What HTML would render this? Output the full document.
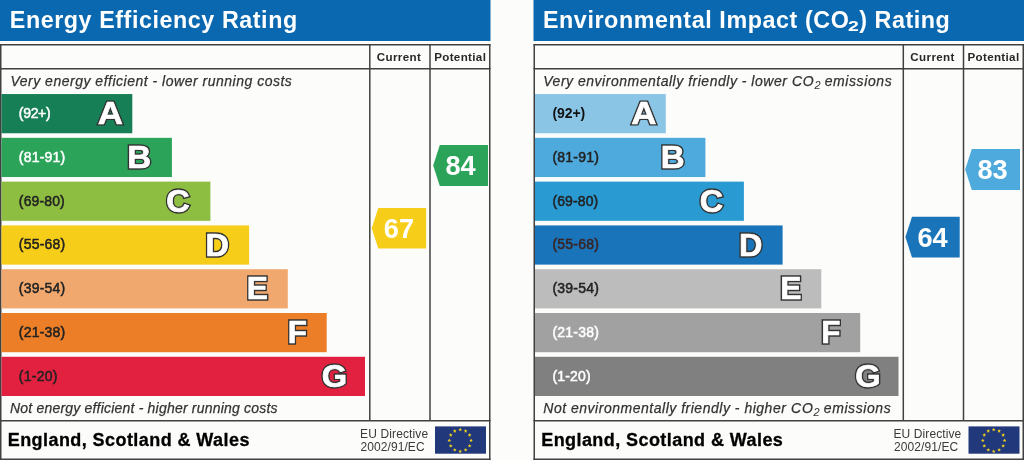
<!DOCTYPE html>
<html><head><meta charset="utf-8"><title>Energy Performance Certificate Ratings</title>
<style>
html,body{margin:0;padding:0;background:#fcfcfa;width:1024px;height:460px;overflow:hidden}
svg{display:block;will-change:transform;font-family:"Liberation Sans",sans-serif}
.ttl{font-size:23.3px;font-weight:bold;fill:#fff}
.sub{font-size:15.5px;font-weight:bold;fill:#fff}
.ln{stroke:#404040;stroke-width:1.5;fill:none}
.hd{font-size:11.6px;font-weight:bold;fill:#282828}
.desc{font-size:14px;font-style:italic;fill:#333;stroke:#333;stroke-width:0.25}
.descu{font-size:14px;font-style:italic;fill:#333;stroke:#333;stroke-width:0.25}
.dsub{font-size:11.5px;font-style:italic;fill:#333}
.rng{font-size:14px;stroke-width:0.5}
.lt1{font-weight:bold;fill:#333;stroke:#333;stroke-linejoin:miter}
.lt2{font-weight:bold;fill:#fff;stroke:#fff;stroke-linejoin:round}
.num{font-size:27.2px;font-weight:bold;fill:#fff}
.ftr{font-size:18px;font-weight:bold;fill:#000;stroke:#000;stroke-width:0.3}
.eu{font-size:12px;fill:#3a3a3a}
</style></head>
<body>
<svg width="1024" height="460" viewBox="0 0 1024 460">
<rect x="0" y="0" width="490.5" height="41" fill="#0a68b0"/>
<line class="ln" x1="0" y1="44.75" x2="490.5" y2="44.75"/>
<line class="ln" x1="0" y1="459.25" x2="490.5" y2="459.25"/>
<line class="ln" x1="0.75" y1="44" x2="0.75" y2="460"/>
<line class="ln" x1="489.75" y1="44" x2="489.75" y2="460"/>
<line class="ln" x1="0" y1="68.75" x2="490.5" y2="68.75"/>
<line class="ln" x1="0" y1="420.75" x2="490.5" y2="420.75"/>
<line class="ln" x1="369.8" y1="44" x2="369.8" y2="421"/>
<line class="ln" x1="430" y1="44" x2="430" y2="421"/>
<rect x="435" y="426.40000000000003" width="51" height="27.3" fill="#21387a"/>
<polygon points="460.20,427.60 460.70,428.91 462.10,428.98 461.01,429.86 461.38,431.22 460.20,430.45 459.02,431.22 459.39,429.86 458.30,428.98 459.70,428.91" fill="#f3d21c"/>
<polygon points="465.65,429.06 466.15,430.37 467.55,430.44 466.46,431.32 466.83,432.68 465.65,431.91 464.47,432.68 464.84,431.32 463.75,430.44 465.15,430.37" fill="#f3d21c"/>
<polygon points="469.64,433.05 470.14,434.36 471.54,434.43 470.45,435.31 470.82,436.67 469.64,435.90 468.46,436.67 468.83,435.31 467.74,434.43 469.14,434.36" fill="#f3d21c"/>
<polygon points="471.10,438.50 471.60,439.81 473.00,439.88 471.91,440.76 472.28,442.12 471.10,441.35 469.92,442.12 470.29,440.76 469.20,439.88 470.60,439.81" fill="#f3d21c"/>
<polygon points="469.64,443.95 470.14,445.26 471.54,445.33 470.45,446.21 470.82,447.57 469.64,446.80 468.46,447.57 468.83,446.21 467.74,445.33 469.14,445.26" fill="#f3d21c"/>
<polygon points="465.65,447.94 466.15,449.25 467.55,449.32 466.46,450.20 466.83,451.56 465.65,450.79 464.47,451.56 464.84,450.20 463.75,449.32 465.15,449.25" fill="#f3d21c"/>
<polygon points="460.20,449.40 460.70,450.71 462.10,450.78 461.01,451.66 461.38,453.02 460.20,452.25 459.02,453.02 459.39,451.66 458.30,450.78 459.70,450.71" fill="#f3d21c"/>
<polygon points="454.75,447.94 455.25,449.25 456.65,449.32 455.56,450.20 455.93,451.56 454.75,450.79 453.57,451.56 453.94,450.20 452.85,449.32 454.25,449.25" fill="#f3d21c"/>
<polygon points="450.76,443.95 451.26,445.26 452.66,445.33 451.57,446.21 451.94,447.57 450.76,446.80 449.58,447.57 449.95,446.21 448.86,445.33 450.26,445.26" fill="#f3d21c"/>
<polygon points="449.30,438.50 449.80,439.81 451.20,439.88 450.11,440.76 450.48,442.12 449.30,441.35 448.12,442.12 448.49,440.76 447.40,439.88 448.80,439.81" fill="#f3d21c"/>
<polygon points="450.76,433.05 451.26,434.36 452.66,434.43 451.57,435.31 451.94,436.67 450.76,435.90 449.58,436.67 449.95,435.31 448.86,434.43 450.26,434.36" fill="#f3d21c"/>
<polygon points="454.75,429.06 455.25,430.37 456.65,430.44 455.56,431.32 455.93,432.68 454.75,431.91 453.57,432.68 453.94,431.32 452.85,430.44 454.25,430.37" fill="#f3d21c"/>
<rect x="1.5" y="94.05" width="130.8" height="39.2" fill="#167f56"/>
<rect x="1.5" y="137.84" width="170.4" height="39.2" fill="#2ba45a"/>
<rect x="1.5" y="181.63" width="208.9" height="39.2" fill="#8dbd41"/>
<rect x="1.5" y="225.42" width="247.6" height="39.2" fill="#f6cd19"/>
<rect x="1.5" y="269.21" width="286.3" height="39.2" fill="#f1a86f"/>
<rect x="1.5" y="313.00" width="325.2" height="39.2" fill="#eb7e26"/>
<rect x="1.5" y="356.79" width="363.5" height="39.2" fill="#e2203f"/>
<text id="LAL" class="lt1" font-size="31.25" stroke-width="3.14" transform="translate(97.68,123.55) scale(1.1161,1)">A</text><text class="lt2" font-size="31.25" stroke-width="0.63" transform="translate(97.68,123.55) scale(1.1161,1)">A</text>
<text id="LBL" class="lt1" font-size="31.54" stroke-width="3.33" transform="translate(127.33,167.75) scale(1.0501,1)">B</text><text class="lt2" font-size="31.54" stroke-width="0.67" transform="translate(127.33,167.75) scale(1.0501,1)">B</text>
<text id="LCL" class="lt1" font-size="31.64" stroke-width="3.42" transform="translate(166.32,211.94) scale(1.0249,1)">C</text><text class="lt2" font-size="31.64" stroke-width="0.68" transform="translate(166.32,211.94) scale(1.0249,1)">C</text>
<text id="LDL" class="lt1" font-size="31.54" stroke-width="3.40" transform="translate(205.58,256.15) scale(1.0288,1)">D</text><text class="lt2" font-size="31.54" stroke-width="0.68" transform="translate(205.58,256.15) scale(1.0288,1)">D</text>
<text id="LEL" class="lt1" font-size="31.11" stroke-width="3.43" transform="translate(246.73,298.95) scale(1.0200,1)">E</text><text class="lt2" font-size="31.11" stroke-width="0.69" transform="translate(246.73,298.95) scale(1.0200,1)">E</text>
<text id="LFL" class="lt1" font-size="30.81" stroke-width="3.44" transform="translate(287.65,342.95) scale(1.0171,1)">F</text><text class="lt2" font-size="30.81" stroke-width="0.69" transform="translate(287.65,342.95) scale(1.0171,1)">F</text>
<text id="LGL" class="lt1" font-size="31.50" stroke-width="3.38" transform="translate(321.81,386.64) scale(1.0351,1)">G</text><text class="lt2" font-size="31.50" stroke-width="0.68" transform="translate(321.81,386.64) scale(1.0351,1)">G</text>
<rect x="533.5" y="0" width="490.5" height="41" fill="#0a68b0"/>
<line class="ln" x1="533.5" y1="44.75" x2="1024.0" y2="44.75"/>
<line class="ln" x1="533.5" y1="459.25" x2="1024.0" y2="459.25"/>
<line class="ln" x1="534.25" y1="44" x2="534.25" y2="460"/>
<line class="ln" x1="1023.25" y1="44" x2="1023.25" y2="460"/>
<line class="ln" x1="533.5" y1="68.75" x2="1024.0" y2="68.75"/>
<line class="ln" x1="533.5" y1="420.75" x2="1024.0" y2="420.75"/>
<line class="ln" x1="903.3" y1="44" x2="903.3" y2="421"/>
<line class="ln" x1="963.5" y1="44" x2="963.5" y2="421"/>
<rect x="968.5" y="426.40000000000003" width="51" height="27.3" fill="#21387a"/>
<polygon points="993.70,427.60 994.20,428.91 995.60,428.98 994.51,429.86 994.88,431.22 993.70,430.45 992.52,431.22 992.89,429.86 991.80,428.98 993.20,428.91" fill="#f3d21c"/>
<polygon points="999.15,429.06 999.65,430.37 1001.05,430.44 999.96,431.32 1000.33,432.68 999.15,431.91 997.97,432.68 998.34,431.32 997.25,430.44 998.65,430.37" fill="#f3d21c"/>
<polygon points="1003.14,433.05 1003.64,434.36 1005.04,434.43 1003.95,435.31 1004.32,436.67 1003.14,435.90 1001.96,436.67 1002.33,435.31 1001.24,434.43 1002.64,434.36" fill="#f3d21c"/>
<polygon points="1004.60,438.50 1005.10,439.81 1006.50,439.88 1005.41,440.76 1005.78,442.12 1004.60,441.35 1003.42,442.12 1003.79,440.76 1002.70,439.88 1004.10,439.81" fill="#f3d21c"/>
<polygon points="1003.14,443.95 1003.64,445.26 1005.04,445.33 1003.95,446.21 1004.32,447.57 1003.14,446.80 1001.96,447.57 1002.33,446.21 1001.24,445.33 1002.64,445.26" fill="#f3d21c"/>
<polygon points="999.15,447.94 999.65,449.25 1001.05,449.32 999.96,450.20 1000.33,451.56 999.15,450.79 997.97,451.56 998.34,450.20 997.25,449.32 998.65,449.25" fill="#f3d21c"/>
<polygon points="993.70,449.40 994.20,450.71 995.60,450.78 994.51,451.66 994.88,453.02 993.70,452.25 992.52,453.02 992.89,451.66 991.80,450.78 993.20,450.71" fill="#f3d21c"/>
<polygon points="988.25,447.94 988.75,449.25 990.15,449.32 989.06,450.20 989.43,451.56 988.25,450.79 987.07,451.56 987.44,450.20 986.35,449.32 987.75,449.25" fill="#f3d21c"/>
<polygon points="984.26,443.95 984.76,445.26 986.16,445.33 985.07,446.21 985.44,447.57 984.26,446.80 983.08,447.57 983.45,446.21 982.36,445.33 983.76,445.26" fill="#f3d21c"/>
<polygon points="982.80,438.50 983.30,439.81 984.70,439.88 983.61,440.76 983.98,442.12 982.80,441.35 981.62,442.12 981.99,440.76 980.90,439.88 982.30,439.81" fill="#f3d21c"/>
<polygon points="984.26,433.05 984.76,434.36 986.16,434.43 985.07,435.31 985.44,436.67 984.26,435.90 983.08,436.67 983.45,435.31 982.36,434.43 983.76,434.36" fill="#f3d21c"/>
<polygon points="988.25,429.06 988.75,430.37 990.15,430.44 989.06,431.32 989.43,432.68 988.25,431.91 987.07,432.68 987.44,431.32 986.35,430.44 987.75,430.37" fill="#f3d21c"/>
<rect x="535.0" y="94.05" width="130.8" height="39.2" fill="#8ac5e6"/>
<rect x="535.0" y="137.84" width="170.4" height="39.2" fill="#4eaadc"/>
<rect x="535.0" y="181.63" width="208.9" height="39.2" fill="#2a9ad3"/>
<rect x="535.0" y="225.42" width="247.6" height="39.2" fill="#1a74b9"/>
<rect x="535.0" y="269.21" width="286.3" height="39.2" fill="#bcbcbc"/>
<rect x="535.0" y="313.00" width="325.2" height="39.2" fill="#a1a1a1"/>
<rect x="535.0" y="356.79" width="363.5" height="39.2" fill="#808080"/>
<text id="LAR" class="lt1" font-size="31.25" stroke-width="3.14" transform="translate(631.18,123.55) scale(1.1161,1)">A</text><text class="lt2" font-size="31.25" stroke-width="0.63" transform="translate(631.18,123.55) scale(1.1161,1)">A</text>
<text id="LBR" class="lt1" font-size="31.54" stroke-width="3.33" transform="translate(660.83,167.75) scale(1.0501,1)">B</text><text class="lt2" font-size="31.54" stroke-width="0.67" transform="translate(660.83,167.75) scale(1.0501,1)">B</text>
<text id="LCR" class="lt1" font-size="31.64" stroke-width="3.42" transform="translate(699.82,211.94) scale(1.0249,1)">C</text><text class="lt2" font-size="31.64" stroke-width="0.68" transform="translate(699.82,211.94) scale(1.0249,1)">C</text>
<text id="LDR" class="lt1" font-size="31.54" stroke-width="3.40" transform="translate(739.08,256.15) scale(1.0288,1)">D</text><text class="lt2" font-size="31.54" stroke-width="0.68" transform="translate(739.08,256.15) scale(1.0288,1)">D</text>
<text id="LER" class="lt1" font-size="31.11" stroke-width="3.43" transform="translate(780.23,298.95) scale(1.0200,1)">E</text><text class="lt2" font-size="31.11" stroke-width="0.69" transform="translate(780.23,298.95) scale(1.0200,1)">E</text>
<text id="LFR" class="lt1" font-size="30.81" stroke-width="3.44" transform="translate(821.15,342.95) scale(1.0171,1)">F</text><text class="lt2" font-size="30.81" stroke-width="0.69" transform="translate(821.15,342.95) scale(1.0171,1)">F</text>
<text id="LGR" class="lt1" font-size="31.50" stroke-width="3.38" transform="translate(855.31,386.64) scale(1.0351,1)">G</text><text class="lt2" font-size="31.50" stroke-width="0.68" transform="translate(855.31,386.64) scale(1.0351,1)">G</text>
<polygon points="371.7,228.2 378.3,207.9 426.1,207.9 426.1,248.4 378.3,248.4" fill="#f6cd19"/><text id="nL1" class="num" x="398.9" y="237.6" text-anchor="middle">67</text>
<polygon points="433.2,165.5 439.8,145.0 488.0,145.0 488.0,186.0 439.8,186.0" fill="#2ba45a"/><text id="nL2" class="num" x="460.6" y="174.8" text-anchor="middle">84</text>
<polygon points="905.4,237.1 912.0,216.7 959.7,216.7 959.7,257.5 912.0,257.5" fill="#1a74b9"/><text id="nR1" class="num" x="932.5" y="246.5" text-anchor="middle">64</text>
<polygon points="965.2,169.4 971.8,149.0 1020.0,149.0 1020.0,189.9 971.8,189.9" fill="#4eaadc"/><text id="nR2" class="num" x="992.6" y="178.7" text-anchor="middle">83</text>
<text id="tL" class="ttl" x="9.79" y="28.1" textLength="287.37" lengthAdjust="spacing">Energy Efficiency Rating</text>
<text id="tR1" class="ttl" x="542.92" y="28.1" textLength="305.92" lengthAdjust="spacing">Environmental Impact (CO</text>
<text id="tR2" class="sub" x="848.00" y="31.4" textLength="10.87" lengthAdjust="spacingAndGlyphs">2</text>
<text id="tR3" class="ttl" x="859.31" y="28.1" textLength="90.35" lengthAdjust="spacing">) Rating</text>
<text id="hcL" class="hd" x="376.70" y="61.4" textLength="44.20" lengthAdjust="spacing">Current</text>
<text id="hpL" class="hd" x="434.13" y="61.4" textLength="51.76" lengthAdjust="spacing">Potential</text>
<text id="hcR" class="hd" x="910.36" y="61.4" textLength="44.07" lengthAdjust="spacing">Current</text>
<text id="hpR" class="hd" x="967.47" y="61.4" textLength="51.64" lengthAdjust="spacing">Potential</text>
<text id="dTL" class="desc" x="10.45" y="86.2" textLength="281.36" lengthAdjust="spacing">Very energy efficient - lower running costs</text>
<text id="dBL" class="desc" x="9.95" y="413.0" textLength="267.57" lengthAdjust="spacing">Not energy efficient - higher running costs</text>
<text id="dTR1" class="desc" x="543.28" y="86.2" textLength="243.60" lengthAdjust="spacing">Very environmentally friendly - lower</text>
<text id="dTR2" class="descu" x="792.06" y="86.4" textLength="21.50" lengthAdjust="spacing">CO</text>
<text id="dTR3" class="dsub" x="814.59" y="89.0" textLength="6.15" lengthAdjust="spacingAndGlyphs">2</text>
<text id="dTR4" class="desc" x="824.70" y="86.2" textLength="66.93" lengthAdjust="spacing">emissions</text>
<text id="dBR1" class="desc" x="543.27" y="413.0" textLength="242.63" lengthAdjust="spacing">Not environmentally friendly - higher</text>
<text id="dBR2" class="descu" x="790.88" y="412.6" textLength="22.04" lengthAdjust="spacing">CO</text>
<text id="dBR3" class="dsub" x="813.59" y="415.6" textLength="6.12" lengthAdjust="spacingAndGlyphs">2</text>
<text id="dBR4" class="desc" x="823.78" y="412.8" textLength="66.85" lengthAdjust="spacing">emissions</text>
<text id="fL" class="ftr" x="7.71" y="445.8" textLength="241.73" lengthAdjust="spacing">England, Scotland &amp; Wales</text>
<text id="fR" class="ftr" x="541.21" y="445.8" textLength="241.66" lengthAdjust="spacing">England, Scotland &amp; Wales</text>
<text id="e1L" class="eu" x="360.10" y="437.7" textLength="67.98" lengthAdjust="spacing">EU Directive</text>
<text id="e2L" class="eu" x="360.41" y="451.1" textLength="64.21" lengthAdjust="spacing">2002/91/EC</text>
<text id="e1R" class="eu" x="893.41" y="437.7" textLength="67.85" lengthAdjust="spacing">EU Directive</text>
<text id="e2R" class="eu" x="894.02" y="451.1" textLength="64.21" lengthAdjust="spacing">2002/91/EC</text>
<text id="rL0" class="rng" x="18.87" y="117.9" textLength="31.70" lengthAdjust="spacing" fill="#fff" stroke="#fff">(92+)</text>
<text id="rR0" class="rng" x="552.45" y="117.9" textLength="32.78" lengthAdjust="spacing" fill="#111" font-weight="bold">(92+)</text>
<text id="rL1" class="rng" x="18.87" y="161.9" textLength="46.32" lengthAdjust="spacing" fill="#fff" stroke="#fff">(81-91)</text>
<text id="rR1" class="rng" x="552.41" y="161.9" textLength="46.56" lengthAdjust="spacing" fill="#222" stroke="#222">(81-91)</text>
<text id="rL2" class="rng" x="18.87" y="205.8" textLength="45.84" lengthAdjust="spacing" fill="#222" stroke="#222">(69-80)</text>
<text id="rR2" class="rng" x="552.41" y="205.8" textLength="45.86" lengthAdjust="spacing" fill="#222" stroke="#222">(69-80)</text>
<text id="rL3" class="rng" x="18.87" y="249.4" textLength="46.32" lengthAdjust="spacing" fill="#222" stroke="#222">(55-68)</text>
<text id="rR3" class="rng" x="552.41" y="249.4" textLength="46.56" lengthAdjust="spacing" fill="#3a2424" stroke="#3a2424">(55-68)</text>
<text id="rL4" class="rng" x="18.87" y="293.0" textLength="46.32" lengthAdjust="spacing" fill="#222" stroke="#222">(39-54)</text>
<text id="rR4" class="rng" x="552.41" y="293.0" textLength="46.56" lengthAdjust="spacing" fill="#222" stroke="#222">(39-54)</text>
<text id="rL5" class="rng" x="18.87" y="336.8" textLength="46.32" lengthAdjust="spacing" fill="#222" stroke="#222">(21-38)</text>
<text id="rR5" class="rng" x="552.41" y="336.8" textLength="46.56" lengthAdjust="spacing" fill="#fff" stroke="#fff">(21-38)</text>
<text id="rL6" class="rng" x="18.87" y="380.6" textLength="38.46" lengthAdjust="spacing" fill="#222" stroke="#222">(1-20)</text>
<text id="rR6" class="rng" x="552.41" y="380.6" textLength="38.32" lengthAdjust="spacing" fill="#fff" stroke="#fff">(1-20)</text>
</svg>
</body></html>
